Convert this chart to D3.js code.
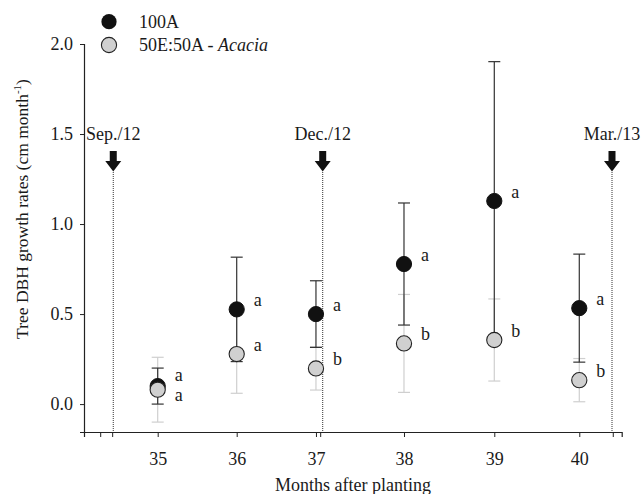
<!DOCTYPE html>
<html><head><meta charset="utf-8">
<script src="https://cdn.jsdelivr.net/npm/d3@7"></script>
<style>
body{margin:0;background:#fff;}
text{font-family:"Liberation Serif","Times New Roman",serif;fill:#1a1a1a;}
</style></head>
<body><svg id="c" width="643" height="494"></svg>
<script>
// ---- data ----
const monthLabels = [35, 36, 37, 38, 39, 40];
// measurement time (months after planting, as placed on the time axis)
const monthPos = [35, 35.937, 36.877, 37.921, 38.992, 40];
const minorTicks = [34.324, 34.466, 36.933, 40.403];
const eventLabels = ["Sep./12", "Dec./12", "Mar./13"];
const eventPos = [34.473, 36.957, 40.388];
const mean100A = [0.10, 0.526, 0.50, 0.778, 1.128, 0.533];
const err100A  = [0.10, 0.29, 0.185, 0.339, 0.774, 0.30];
const meanMix  = [0.08, 0.278, 0.198, 0.337, 0.356, 0.133];
const errMix   = [0.18, 0.218, 0.12, 0.272, 0.228, 0.12];
const letters100A = ["a","a","a","a","a","a"];
const lettersMix  = ["a","a","b","b","b","b"];
const yTicks = [0.0, 0.5, 1.0, 1.5, 2.0];

// ---- layout ----
const svg = d3.select("#c");
const x = d3.scaleLinear().domain([34.126, 40.503]).range([84, 621.7]);
const y = d3.scaleLinear().domain([-0.155, 2.0]).range([432, 44]);
const FS = 18;

// axes
const xAxis = svg.append("g").attr("transform", `translate(0,${y(-0.155)})`)
  .call(d3.axisBottom(x).tickValues(monthPos).tickFormat((d,i)=>monthLabels[i]).tickSize(5).tickPadding(15));
xAxis.append("g").selectAll("line").data(minorTicks).join("line")
  .attr("x1", d=>x(d)).attr("x2", d=>x(d)).attr("y1", 0).attr("y2", 5).attr("stroke", "#222");
const yAxis = svg.append("g").attr("transform", `translate(${x(34.126)},0)`)
  .call(d3.axisLeft(y).tickValues(yTicks).tickFormat(d3.format(".1f")).tickSize(4).tickPadding(7));
[xAxis, yAxis].forEach(g=>{
  g.select(".domain").attr("stroke","#222").attr("stroke-width",1.2);
  g.selectAll(".tick line").attr("stroke","#222");
  g.selectAll("text").attr("font-size", FS).attr("font-family","Liberation Serif").attr("fill","#1a1a1a");
});

// axis titles
svg.append("text").attr("x", 353).attr("y", 491).attr("text-anchor","middle")
  .attr("font-size", FS).text("Months after planting");
const yl = svg.append("text").attr("transform", "translate(28,209) rotate(-90)")
  .attr("text-anchor","middle").attr("font-size", 17.5);
yl.append("tspan").text("Tree DBH growth rates (cm month");
yl.append("tspan").attr("font-size", 11).attr("dy", -7).text("-1");
yl.append("tspan").attr("dy", 7).text(")");

// event markers
eventPos.forEach((p,i)=>{
  const cx = x(p);
  svg.append("line").attr("x1", cx).attr("x2", cx).attr("y1", 172).attr("y2", y(-0.155))
    .attr("stroke","#333").attr("stroke-width",1).attr("stroke-dasharray","1,1");
  svg.append("path").attr("d",
    `M${cx-3.5},151 L${cx+3.5},151 L${cx+3.5},161 L${cx+8},161 L${cx},171.5 L${cx-8},161 L${cx-3.5},161 Z`)
    .attr("fill","#111");
  svg.append("text").attr("x", cx).attr("y", 140).attr("text-anchor","middle")
    .attr("font-size", FS).text(eventLabels[i]);
});

// error bars
function errBars(means, errs, color){
  const g = svg.append("g").attr("stroke", color).attr("stroke-width", 1.2);
  means.forEach((m,i)=>{
    const cx = x(monthPos[i]), lo = y(m-errs[i]), hi = y(m+errs[i]);
    g.append("line").attr("x1",cx).attr("x2",cx).attr("y1",lo).attr("y2",hi);
    g.append("line").attr("x1",cx-6).attr("x2",cx+6).attr("y1",lo).attr("y2",lo);
    g.append("line").attr("x1",cx-6).attr("x2",cx+6).attr("y1",hi).attr("y2",hi);
  });
}
errBars(meanMix, errMix, "#cfcfcf");
errBars(mean100A, err100A, "#333");

// points
svg.append("g").selectAll("circle").data(mean100A).join("circle")
  .attr("cx",(d,i)=>x(monthPos[i])).attr("cy",d=>y(d)).attr("r",7.6)
  .attr("fill","#111").attr("stroke","#111");
svg.append("g").selectAll("circle").data(meanMix).join("circle")
  .attr("cx",(d,i)=>x(monthPos[i])).attr("cy",d=>y(d)).attr("r",7.6)
  .attr("fill","#d0d0d0").attr("stroke","#222").attr("stroke-width",1.1);

// significance letters
mean100A.forEach((m,i)=>{
  const cx = x(monthPos[i]) + 17;
  let yb = y(m) - 9, yg = y(meanMix[i]) - 9;
  if (Math.abs(yb - yg) < 18) {
    const mid = (y(m) + y(meanMix[i]))/2 - 3;
    yb = mid - 10; yg = mid + 10;
  }
  svg.append("text").attr("x",cx).attr("y",yb).attr("dy","0.32em").attr("font-size",FS).text(letters100A[i]);
  svg.append("text").attr("x",cx).attr("y",yg).attr("dy","0.32em").attr("font-size",FS).text(lettersMix[i]);
});

// legend
const leg = svg.append("g");
leg.append("circle").attr("cx",109).attr("cy",21.7).attr("r",7.6).attr("fill","#111");
leg.append("circle").attr("cx",109).attr("cy",45).attr("r",7.6).attr("fill","#d0d0d0").attr("stroke","#222").attr("stroke-width",1.1);
leg.append("text").attr("x",139).attr("y",21.7).attr("dy","0.35em").attr("font-size",FS).text("100A");
const t2 = leg.append("text").attr("x",139).attr("y",45).attr("dy","0.35em").attr("font-size",FS);
t2.append("tspan").text("50E:50A - ");
t2.append("tspan").attr("font-style","italic").text("Acacia");
</script></body></html>
